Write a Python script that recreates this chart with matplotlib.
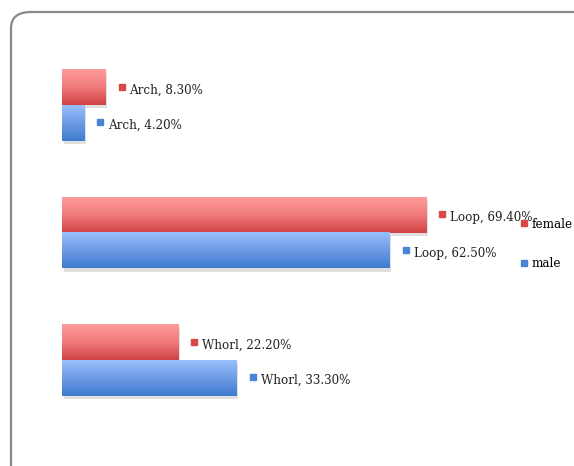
import numpy as np
import matplotlib.pyplot as plt
from matplotlib.colors import LinearSegmentedColormap
from matplotlib.patches import FancyBboxPatch, Rectangle
from matplotlib.lines import Line2D
import matplotlib.transforms as mtransforms

categories = ["Arch", "Loop", "Whorl"]
female = [8.3, 69.4, 22.2]
male = [4.2, 62.5, 33.3]
series = ["female", "male"]

red_cm = LinearSegmentedColormap.from_list("red", ["#ff9c9c", "#f07a7a", "#d14343"])
blue_cm = LinearSegmentedColormap.from_list("blue", ["#98befb", "#6f9be6", "#3f7ccf"])

W, H = 574, 466
fig = plt.figure(figsize=(W / 100, H / 100), dpi=100)

# rounded frame, running off the right and bottom edges
frame = FancyBboxPatch((11 / W, -0.1), 1.2, (466 - 12) / H + 0.1,
                       boxstyle="round,pad=0,rounding_size=0.035",
                       transform=fig.transFigure, fc="none", ec="#8a8a8a", lw=1.6,
                       zorder=-10)
fig.patches.append(frame)

ax = fig.add_axes([62 / W, (H - 424) / H, 80 * 5.245 / W, 382.5 / H])
ax.set_axis_off()
ax.patch.set_alpha(0)

font = dict(family="DejaVu Serif", fontstretch="condensed", fontsize=9.5, color="#222222")
h = 0.28
ypos = [2, 1, 0]
grad = np.linspace(0, 1, 64).reshape(-1, 1)

for i, cat in enumerate(categories):
    y = ypos[i]
    for val, cm, y0, col in [(female[i], red_cm, y, "#d94848"),
                             (male[i], blue_cm, y - h, "#4a84d6")]:
        # soft shadow
        ax.add_patch(Rectangle((0.3, y0 - 0.025), val, h, fc="black", alpha=0.12, lw=0, zorder=1))
        ax.imshow(grad, extent=[0, val, y0, y0 + h], aspect="auto", cmap=cm,
                  origin="upper", zorder=2, interpolation="bilinear")
        yc = y0 + h / 2 - 0.02
        tm = mtransforms.offset_copy(ax.transData, fig=fig, x=16, y=0, units="dots")
        ax.plot([val], [yc + 0.025], marker="s", ms=5, color=col, transform=tm,
                clip_on=False, zorder=3)
        tt = mtransforms.offset_copy(ax.transData, fig=fig, x=24, y=0, units="dots")
        ax.text(val, yc, f"{cat}, {val:.2f}%", transform=tt, va="center", ha="left", **font)

ax.set_xlim(0, 80)
ax.set_ylim(-0.5, 2.5)

handles = [Line2D([], [], ls="", marker="s", ms=5, color="#d94848"),
           Line2D([], [], ls="", marker="s", ms=5, color="#4a84d6")]
leg = fig.legend(handles, series, loc="center left", bbox_to_anchor=(520 / W, 1 - 244 / H),
                 frameon=False, handlelength=0.6, handletextpad=0.25, labelspacing=2.0,
                 borderpad=0, borderaxespad=0,
                 prop=dict(family="DejaVu Serif", stretch="condensed", size=9.5))

fig.savefig("out.png", dpi=100)
